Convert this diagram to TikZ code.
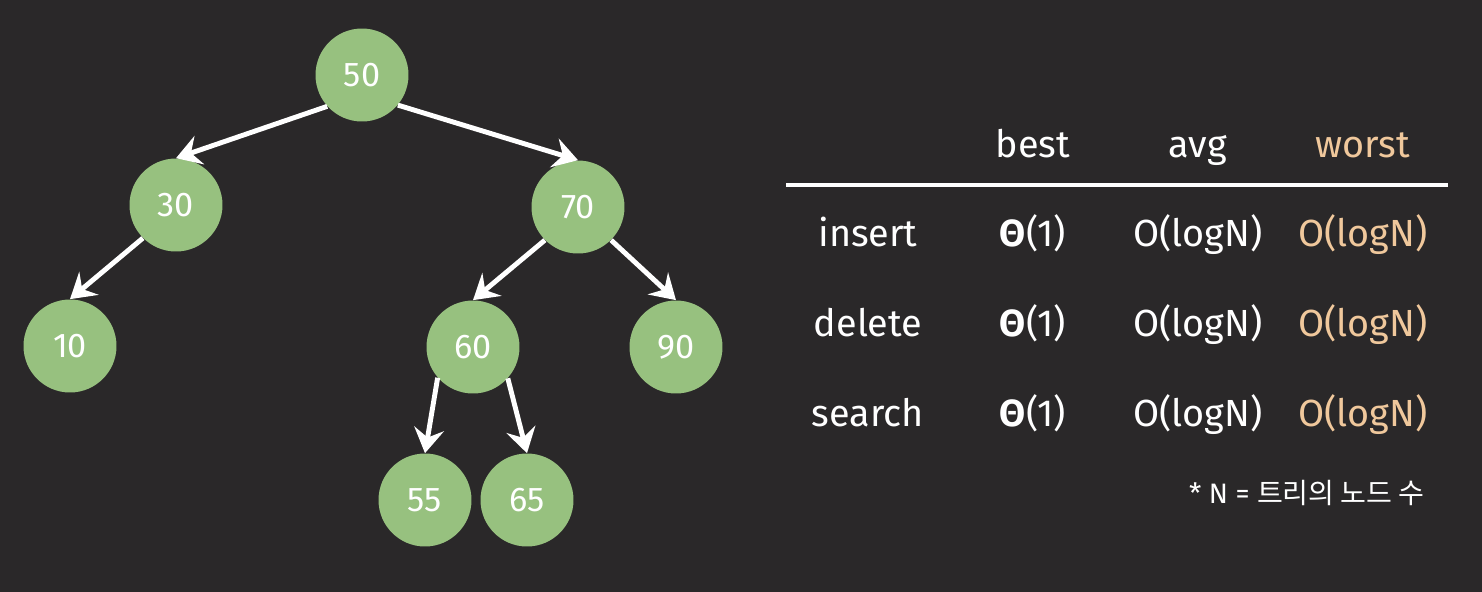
\documentclass[tikz,border=0pt]{standalone}
\usepackage{fontspec}
\setmainfont{Fira Sans}
\newfontfamily\krfont{Noto Sans CJK KR}
\usetikzlibrary{arrows.meta}
\definecolor{bg}{HTML}{2A2829}
\definecolor{nodegreen}{HTML}{97C17F}
\definecolor{worstc}{HTML}{F0C89C}
\tikzset{
  bstnode/.style={circle, fill=nodegreen, minimum size=1.86cm, inner sep=0pt, text=white, font=\fontsize{19.5}{22}\selectfont},
  edge/.style={draw=white, line width=2.8pt, -{Stealth[length=14pt, width=17pt, inset=5pt]}},
  cell/.style={text=white, font=\fontsize{21.5}{24}\selectfont, anchor=base},
  wcell/.style={cell, text=worstc},
}
\newcommand{\bigth}{{\bfseries Θ}}
\begin{document}
\begin{tikzpicture}[x=0.02cm, y=-0.02cm]
\fill[bg] (0,0) rectangle (1482,592);
\useasboundingbox (0,0) rectangle (1482,592);
% tree nodes
\node[bstnode] (n50) at (362,75) {50};
\node[bstnode] (n30) at (176,205) {30};
\node[bstnode] (n70) at (578,207) {70};
\node[bstnode] (n10) at (70,346) {10};
\node[bstnode] (n60) at (473,347) {60};
\node[bstnode] (n90) at (676,347) {90};
\node[bstnode] (n55) at (425,500) {55};
\node[bstnode] (n65) at (527,500) {65};
% edges
\draw[edge] (n50.222) -- (n30.north);
\draw[edge] (n50.-40) -- (n70.north);
\draw[edge] (n30.225) -- (n10.north);
\draw[edge] (n70.225) -- (n60.north);
\draw[edge] (n70.-45) -- (n90.north);
\draw[edge] (n60.221) -- (n55.north);
\draw[edge] (n60.-42) -- (n65.north);
% table header
\node[cell] (hbest) at (1033,157) {best};
\node[cell] (havg) at (1198,157) {avg};
\node[wcell] (hworst) at (1363,157) {worst};
\coordinate (ruleL) at (786,185);
\coordinate (ruleR) at (1448,185);
\draw[white, line width=2.2pt] (ruleL) -- (ruleR);
% rows
\node[cell] (r1) at (868,246) {insert};
\node[cell] (r1b) at (1033,246) {\bigth(1)};
\node[cell] (r1a) at (1198,246) {O(logN)};
\node[wcell] (r1w) at (1363,246) {O(logN)};
\node[cell] (r2) at (868,336) {delete};
\node[cell] (r2b) at (1033,336) {\bigth(1)};
\node[cell] (r2a) at (1198,336) {O(logN)};
\node[wcell] (r2w) at (1363,336) {O(logN)};
\node[cell] (r3) at (868,426) {search};
\node[cell] (r3b) at (1033,426) {\bigth(1)};
\node[cell] (r3a) at (1198,426) {O(logN)};
\node[wcell] (r3w) at (1363,426) {O(logN)};
% footnote
\node[text=white, font=\fontsize{16}{18}\selectfont, anchor=base east] (foot) at (1431,503) {* N = {\krfont 트리의 노드 수}};
\end{tikzpicture}
\end{document}
